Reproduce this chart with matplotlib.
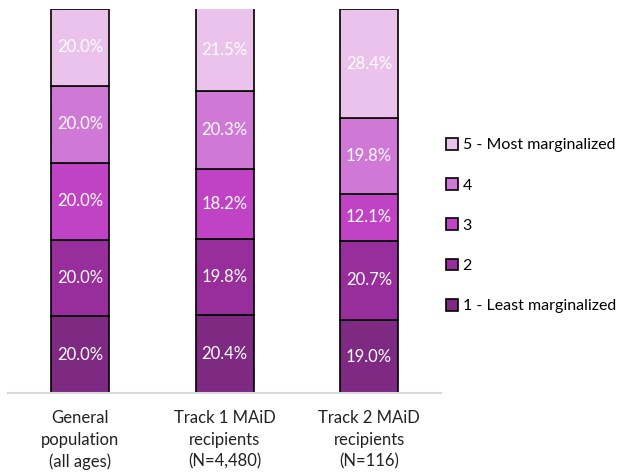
import numpy as np
import matplotlib.pyplot as plt
from matplotlib.patches import Patch

plt.rcParams['font.family'] = ['Lato', 'DejaVu Sans']

groups = ["General\npopulation\n(all ages)",
          "Track 1 MAiD\nrecipients\n(N=4,480)",
          "Track 2 MAiD\nrecipients\n(N=116)"]
quintiles = ["1 - Least marginalized", "2", "3", "4", "5 - Most marginalized"]
# rows = quintile 1..5, cols = groups
shares = np.array([
    [20.0, 20.4, 19.0],
    [20.0, 19.8, 20.7],
    [20.0, 18.2, 12.1],
    [20.0, 20.3, 19.8],
    [20.0, 21.5, 28.4],
])
colors = ["#7e2a82", "#982e9c", "#c043c5", "#d078d5", "#eac2ec"]

fig = plt.figure(figsize=(6.18, 4.76), dpi=100)
ax = fig.add_axes([0.013, 0.174, 0.701, 0.807])

x = np.arange(len(groups))
bottom = np.zeros(len(groups))
for i, q in enumerate(quintiles):
    ax.bar(x, shares[i], 0.4, bottom=bottom, color=colors[i],
           edgecolor="black", linewidth=1.2, label=q, zorder=2)
    for j in range(len(groups)):
        ax.text(x[j], bottom[j] + shares[i, j] / 2, f"{shares[i, j]:.1f}%",
                ha="center", va="center", color="white", fontsize=12)
    bottom += shares[i]

ax.set_xlim(-0.5, 2.5)
ax.set_ylim(0, 100)
ax.set_yticks([])
ax.set_xticks(x)
ax.set_xticklabels(groups, fontsize=12, color="#222222", linespacing=1.45)
ax.tick_params(axis="x", length=0, pad=12)
for s in ["top", "right", "left"]:
    ax.spines[s].set_visible(False)
ax.spines["bottom"].set_color("#d9d9d9")
ax.spines["bottom"].set_linewidth(1.5)
ax.spines["bottom"].set_zorder(3)

handles = [Patch(facecolor=colors[i], edgecolor="black", linewidth=1.2, label=quintiles[i])
           for i in range(len(quintiles) - 1, -1, -1)]
fig.legend(handles=handles, loc="center left", bbox_to_anchor=(0.698, 0.526),
           frameon=False, fontsize=11.5, handlelength=0.75, handleheight=0.75,
           handletextpad=0.3, labelspacing=1.62)

fig.savefig("out.png", dpi=100)
